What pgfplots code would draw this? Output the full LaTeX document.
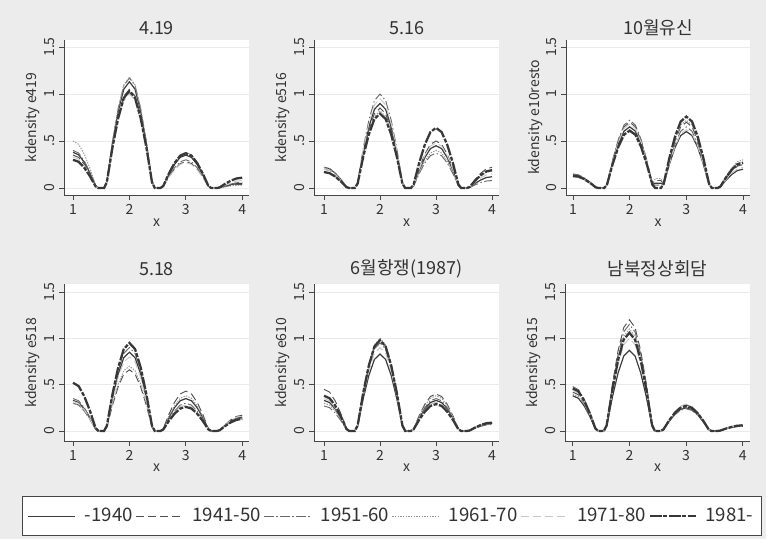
\documentclass[border=0pt]{standalone}
\usepackage{fontspec}
\setmainfont{Noto Sans CJK KR}
\usepackage{pgfplots}
\usepackage{pgfplotstable}
\pgfplotsset{compat=1.18}
\definecolor{bggray}{RGB}{236,236,236}
\definecolor{gridgray}{RGB}{234,234,234}
\definecolor{axisgray}{RGB}{70,70,70}
\definecolor{textgray}{RGB}{50,50,50}
\definecolor{cA}{RGB}{60,60,60}
\definecolor{cB}{RGB}{80,80,80}
\definecolor{cC}{RGB}{105,105,105}
\definecolor{cD}{RGB}{150,150,150}
\definecolor{cE}{RGB}{200,200,200}
\definecolor{cF}{RGB}{55,55,55}

\pgfplotstableread{
x a b c d e f
1.00 0.380 0.350 0.400 0.500 0.330 0.300
1.10 0.353 0.326 0.372 0.465 0.307 0.279
1.20 0.274 0.252 0.288 0.360 0.238 0.216
1.30 0.160 0.147 0.168 0.210 0.139 0.126
1.40 0.023 0.021 0.024 0.030 0.020 0.018
1.45 0 0 0 0 0 0
1.55 0 0 0 0 0 0
1.60 0.068 0.063 0.070 0.071 0.060 0.062
1.70 0.475 0.441 0.491 0.496 0.420 0.433
1.80 0.814 0.756 0.842 0.850 0.720 0.742
1.90 1.051 0.977 1.088 1.097 0.930 0.958
2.00 1.130 1.050 1.170 1.180 1.000 1.030
2.10 1.051 0.977 1.088 1.097 0.930 0.958
2.20 0.814 0.756 0.842 0.850 0.720 0.742
2.30 0.475 0.441 0.491 0.496 0.420 0.433
2.40 0.068 0.063 0.070 0.071 0.060 0.062
2.45 0 0 0 0 0 0
2.55 0 0 0 0 0 0
2.60 0.021 0.017 0.018 0.023 0.016 0.022
2.70 0.147 0.118 0.126 0.160 0.113 0.155
2.80 0.252 0.202 0.216 0.274 0.194 0.266
2.90 0.326 0.260 0.279 0.353 0.251 0.344
3.00 0.350 0.280 0.300 0.380 0.270 0.370
3.10 0.326 0.260 0.279 0.353 0.251 0.344
3.20 0.252 0.202 0.216 0.274 0.194 0.266
3.30 0.147 0.118 0.126 0.160 0.113 0.155
3.40 0.021 0.017 0.018 0.023 0.016 0.022
3.45 0 0 0 0 0 0
3.55 0 0 0 0 0 0
3.60 0.003 0.002 0.004 0.002 0.005 0.007
3.70 0.021 0.017 0.025 0.013 0.034 0.046
3.80 0.036 0.029 0.043 0.022 0.058 0.079
3.90 0.047 0.037 0.056 0.028 0.074 0.102
4.00 0.050 0.040 0.060 0.030 0.080 0.110
}\tA

\pgfplotstableread{
x a b c d e f
1.00 0.220 0.200 0.170 0.220 0.200 0.170
1.10 0.205 0.186 0.158 0.205 0.186 0.158
1.20 0.158 0.144 0.122 0.158 0.144 0.122
1.30 0.092 0.084 0.071 0.092 0.084 0.071
1.40 0.013 0.012 0.010 0.013 0.012 0.010
1.45 0 0 0 0 0 0
1.55 0 0 0 0 0 0
1.60 0.054 0.051 0.060 0.049 0.057 0.047
1.70 0.378 0.357 0.420 0.344 0.399 0.332
1.80 0.648 0.612 0.720 0.590 0.684 0.569
1.90 0.837 0.791 0.930 0.763 0.884 0.735
2.00 0.900 0.850 1.000 0.820 0.950 0.790
2.10 0.837 0.791 0.930 0.763 0.884 0.735
2.20 0.648 0.612 0.720 0.590 0.684 0.569
2.30 0.378 0.357 0.420 0.344 0.399 0.332
2.40 0.054 0.051 0.060 0.049 0.057 0.047
2.45 0 0 0 0 0 0
2.55 0 0 0 0 0 0
2.60 0.027 0.030 0.022 0.024 0.029 0.038
2.70 0.189 0.210 0.155 0.168 0.202 0.269
2.80 0.324 0.360 0.266 0.288 0.346 0.461
2.90 0.419 0.465 0.344 0.372 0.446 0.595
3.00 0.450 0.500 0.370 0.400 0.480 0.640
3.10 0.419 0.465 0.344 0.372 0.446 0.595
3.20 0.324 0.360 0.266 0.288 0.346 0.461
3.30 0.189 0.210 0.155 0.168 0.202 0.269
3.40 0.027 0.030 0.022 0.024 0.029 0.038
3.45 0 0 0 0 0 0
3.55 0 0 0 0 0 0
3.60 0.007 0.013 0.005 0.011 0.009 0.011
3.70 0.050 0.092 0.034 0.076 0.063 0.080
3.80 0.086 0.158 0.058 0.130 0.108 0.137
3.90 0.112 0.205 0.074 0.167 0.140 0.177
4.00 0.120 0.220 0.080 0.180 0.150 0.190
}\tB

\pgfplotstableread{
x a b c d e f
1.00 0.140 0.120 0.150 0.130 0.120 0.130
1.10 0.130 0.112 0.140 0.121 0.112 0.121
1.20 0.101 0.086 0.108 0.094 0.086 0.094
1.30 0.059 0.050 0.063 0.055 0.050 0.055
1.40 0.008 0.007 0.009 0.008 0.007 0.008
1.45 0 0 0 0 0 0
1.55 0 0 0 0 0 0
1.60 0.039 0.042 0.043 0.037 0.041 0.037
1.70 0.273 0.294 0.302 0.260 0.286 0.256
1.80 0.468 0.504 0.518 0.446 0.490 0.439
1.90 0.605 0.651 0.670 0.577 0.632 0.567
2.00 0.650 0.700 0.720 0.620 0.680 0.610
2.10 0.605 0.651 0.670 0.577 0.632 0.567
2.20 0.468 0.504 0.518 0.446 0.490 0.439
2.30 0.273 0.294 0.302 0.260 0.286 0.256
2.40 0.039 0.042 0.043 0.037 0.041 0.037
2.45 0.050 0.080 0.030 0.100 0 0
2.55 0.050 0.080 0.030 0.100 0 0
2.60 0.036 0.042 0.039 0.043 0.037 0.046
2.70 0.252 0.294 0.273 0.302 0.260 0.319
2.80 0.432 0.504 0.468 0.518 0.446 0.547
2.90 0.558 0.651 0.605 0.670 0.577 0.707
3.00 0.600 0.700 0.650 0.720 0.620 0.760
3.10 0.558 0.651 0.605 0.670 0.577 0.707
3.20 0.432 0.504 0.468 0.518 0.446 0.547
3.30 0.252 0.294 0.273 0.302 0.260 0.319
3.40 0.036 0.042 0.039 0.043 0.037 0.046
3.45 0 0 0 0 0 0
3.55 0 0 0 0 0 0
3.60 0.012 0.015 0.017 0.018 0.013 0.016
3.70 0.084 0.105 0.118 0.126 0.092 0.113
3.80 0.144 0.180 0.202 0.216 0.158 0.194
3.90 0.186 0.233 0.260 0.279 0.205 0.251
4.00 0.200 0.250 0.280 0.300 0.220 0.270
}\tC

\pgfplotstableread{
x a b c d e f
1.00 0.330 0.300 0.350 0.300 0.320 0.520
1.10 0.307 0.279 0.326 0.279 0.298 0.484
1.20 0.238 0.216 0.252 0.216 0.230 0.374
1.30 0.139 0.126 0.147 0.126 0.134 0.218
1.40 0.020 0.018 0.021 0.018 0.019 0.031
1.45 0 0 0 0 0 0
1.55 0 0 0 0 0 0
1.60 0.051 0.040 0.054 0.042 0.048 0.057
1.70 0.357 0.277 0.378 0.294 0.336 0.399
1.80 0.612 0.475 0.648 0.504 0.576 0.684
1.90 0.791 0.614 0.837 0.651 0.744 0.884
2.00 0.850 0.660 0.900 0.700 0.800 0.950
2.10 0.791 0.614 0.837 0.651 0.744 0.884
2.20 0.612 0.475 0.648 0.504 0.576 0.684
2.30 0.357 0.277 0.378 0.294 0.336 0.399
2.40 0.051 0.040 0.054 0.042 0.048 0.057
2.45 0 0 0 0 0 0
2.55 0 0 0 0 0 0
2.60 0.021 0.026 0.018 0.023 0.017 0.016
2.70 0.147 0.181 0.126 0.160 0.118 0.109
2.80 0.252 0.310 0.216 0.274 0.202 0.187
2.90 0.326 0.400 0.279 0.353 0.260 0.242
3.00 0.350 0.430 0.300 0.380 0.280 0.260
3.10 0.326 0.400 0.279 0.353 0.260 0.242
3.20 0.252 0.310 0.216 0.274 0.202 0.187
3.30 0.147 0.181 0.126 0.160 0.118 0.109
3.40 0.021 0.026 0.018 0.023 0.017 0.016
3.45 0 0 0 0 0 0
3.55 0 0 0 0 0 0
3.60 0.009 0.010 0.008 0.008 0.010 0.008
3.70 0.063 0.071 0.059 0.055 0.067 0.055
3.80 0.108 0.122 0.101 0.094 0.115 0.094
3.90 0.140 0.158 0.130 0.121 0.149 0.121
4.00 0.150 0.170 0.140 0.130 0.160 0.130
}\tD

\pgfplotstableread{
x a b c d e f
1.00 0.330 0.450 0.270 0.300 0.350 0.380
1.10 0.307 0.419 0.251 0.279 0.326 0.353
1.20 0.238 0.324 0.194 0.216 0.252 0.274
1.30 0.139 0.189 0.113 0.126 0.147 0.160
1.40 0.020 0.027 0.016 0.018 0.021 0.023
1.45 0 0 0 0 0 0
1.55 0 0 0 0 0 0
1.60 0.050 0.059 0.057 0.060 0.054 0.059
1.70 0.349 0.412 0.399 0.420 0.378 0.412
1.80 0.598 0.706 0.684 0.720 0.648 0.706
1.90 0.772 0.911 0.884 0.930 0.837 0.911
2.00 0.830 0.980 0.950 1.000 0.900 0.980
2.10 0.772 0.911 0.884 0.930 0.837 0.911
2.20 0.598 0.706 0.684 0.720 0.648 0.706
2.30 0.349 0.412 0.399 0.420 0.378 0.412
2.40 0.050 0.059 0.057 0.060 0.054 0.059
2.45 0 0 0 0 0 0
2.55 0 0 0 0 0 0
2.60 0.020 0.024 0.021 0.023 0.019 0.017
2.70 0.139 0.168 0.147 0.160 0.130 0.122
2.80 0.238 0.288 0.252 0.274 0.223 0.209
2.90 0.307 0.372 0.326 0.353 0.288 0.270
3.00 0.330 0.400 0.350 0.380 0.310 0.290
3.10 0.307 0.372 0.326 0.353 0.288 0.270
3.20 0.238 0.288 0.252 0.274 0.223 0.209
3.30 0.139 0.168 0.147 0.160 0.130 0.122
3.40 0.020 0.024 0.021 0.023 0.019 0.017
3.45 0 0 0 0 0 0
3.55 0 0 0 0 0 0
3.60 0.005 0.005 0.004 0.005 0.005 0.005
3.70 0.034 0.038 0.029 0.034 0.038 0.038
3.80 0.058 0.065 0.050 0.058 0.065 0.065
3.90 0.074 0.084 0.065 0.074 0.084 0.084
4.00 0.080 0.090 0.070 0.080 0.090 0.090
}\tE

\pgfplotstableread{
x a b c d e f
1.00 0.380 0.420 0.480 0.400 0.440 0.460
1.10 0.353 0.391 0.446 0.372 0.409 0.428
1.20 0.274 0.302 0.346 0.288 0.317 0.331
1.30 0.160 0.176 0.202 0.168 0.185 0.193
1.40 0.023 0.025 0.029 0.024 0.026 0.028
1.45 0 0 0 0 0 0
1.55 0 0 0 0 0 0
1.60 0.052 0.072 0.069 0.066 0.060 0.064
1.70 0.365 0.504 0.483 0.462 0.420 0.445
1.80 0.626 0.864 0.828 0.792 0.720 0.763
1.90 0.809 1.116 1.070 1.023 0.930 0.986
2.00 0.870 1.200 1.150 1.100 1.000 1.060
2.10 0.809 1.116 1.070 1.023 0.930 0.986
2.20 0.626 0.864 0.828 0.792 0.720 0.763
2.30 0.365 0.504 0.483 0.462 0.420 0.445
2.40 0.052 0.072 0.069 0.066 0.060 0.064
2.45 0 0 0 0 0 0
2.55 0 0 0 0 0 0
2.60 0.015 0.017 0.014 0.016 0.017 0.016
2.70 0.105 0.118 0.101 0.109 0.122 0.113
2.80 0.180 0.202 0.173 0.187 0.209 0.194
2.90 0.233 0.260 0.223 0.242 0.270 0.251
3.00 0.250 0.280 0.240 0.260 0.290 0.270
3.10 0.233 0.260 0.223 0.242 0.270 0.251
3.20 0.180 0.202 0.173 0.187 0.209 0.194
3.30 0.105 0.118 0.101 0.109 0.122 0.113
3.40 0.015 0.017 0.014 0.016 0.017 0.016
3.45 0 0 0 0 0 0
3.55 0 0 0 0 0 0
3.60 0.004 0.003 0.004 0.004 0.004 0.004
3.70 0.025 0.021 0.025 0.029 0.025 0.025
3.80 0.043 0.036 0.043 0.050 0.043 0.043
3.90 0.056 0.047 0.056 0.065 0.056 0.056
4.00 0.060 0.050 0.060 0.070 0.060 0.060
}\tF

\pgfplotsset{
  sA/.style={draw=cA, line width=0.9pt, solid},
  sB/.style={draw=cB, line width=0.7pt, dash pattern=on 6pt off 3pt},
  sC/.style={draw=cC, line width=0.7pt, dash pattern=on 7pt off 2pt on 1pt off 2pt},
  sD/.style={draw=cD, line width=0.7pt, dash pattern=on 1pt off 1pt},
  sE/.style={draw=cE, line width=0.7pt, dash pattern=on 6pt off 3pt},
  sF/.style={draw=cF, line width=1.7pt, dash pattern=on 9pt off 1.2pt on 3pt off 1.2pt},
  legend image code/.code={\draw (0pt,0pt) -- (35pt,0pt);},
  panel/.style={
    scale only axis, width=138.75pt, anchor=south west,
    axis x line*=bottom, axis y line*=left,
    axis line style={draw=axisgray, line width=0.6pt, -},
    axis background/.style={fill=white},
    xtick={1,2,3,4}, ytick={0,0.5,1,1.5}, yticklabels={0,.5,1,1.5},
    tick align=outside, major tick length=3.75pt,
    tick style={draw=axisgray, line width=0.6pt},
    ymajorgrids, major grid style={draw=gridgray, line width=0.6pt},
    /pgf/number format/assume math mode=true,
    tick label style={font=\fontsize{10.5}{12}\selectfont, text=textgray},
    yticklabel style={rotate=90, anchor=south},
    xlabel={x},
    label style={font=\fontsize{10.5}{12}\selectfont, text=textgray},
    ylabel style={at={(axis description cs:-0.168,0.5)}, anchor=center, rotate=0},
    title style={font=\fontsize{13.5}{15}\selectfont, text=textgray, anchor=center},
    clip=true,
  },
  rowone/.style={height=116.25pt, ymin=-0.074, ymax=1.574,
    title style={at={(axis description cs:0.5,1.028)}},
    xlabel style={at={(axis description cs:0.5,-0.181)}, anchor=center}},
  rowtwo/.style={height=117.75pt, ymin=-0.108, ymax=1.586,
    title style={at={(axis description cs:0.5,1.045)}},
    xlabel style={at={(axis description cs:0.5,-0.172)}, anchor=center}},
}

\newcommand{\sixplots}[1]{%
  \addplot[sA] table[x=x,y=a]{#1};
  \addplot[sB] table[x=x,y=b]{#1};
  \addplot[sC] table[x=x,y=c]{#1};
  \addplot[sD] table[x=x,y=d]{#1};
  \addplot[sE] table[x=x,y=e]{#1};
  \addplot[sF] table[x=x,y=f]{#1};
}

\begin{document}
\begin{tikzpicture}
\path[use as bounding box, fill=bggray] (0,0) rectangle (574.5pt,404.25pt);

\begin{axis}[panel, rowone, at={(48pt,258pt)}, xmin=0.84, xmax=4.12,
  title={4.19}, ylabel={kdensity e419}]
\sixplots{\tA}
\end{axis}

\begin{axis}[panel, rowone, at={(235.5pt,258pt)}, xmin=0.821, xmax=4.125,
  title={5.16}, ylabel={kdensity e516}]
\sixplots{\tB}
\end{axis}

\begin{axis}[panel, rowone, at={(424.5pt,258pt)}, width=138pt, xmin=0.876, xmax=4.123,
  title={10월유신}, ylabel={kdensity e10resto}]
\sixplots{\tC}
\end{axis}

\begin{axis}[panel, rowtwo, at={(48pt,73.5pt)}, xmin=0.84, xmax=4.12,
  title={5.18}, ylabel={kdensity e518}]
\sixplots{\tD}
\end{axis}

\begin{axis}[panel, rowtwo, at={(235.5pt,73.5pt)}, xmin=0.821, xmax=4.125,
  title={6월항쟁(1987)}, ylabel={kdensity e610}]
\sixplots{\tE}
\end{axis}

\begin{axis}[panel, rowtwo, at={(423.75pt,73.5pt)}, xmin=0.864, xmax=4.128,
  title={남북정상회담}, ylabel={kdensity e615}]
\sixplots{\tF}
\end{axis}

\begin{axis}[hide axis, scale only axis, width=574.5pt, height=404.25pt,
  at={(0pt,0pt)}, anchor=south west, xmin=0, xmax=1, ymin=0, ymax=1,
  legend columns=6,
  legend style={at={(0.0287,0.0056)}, anchor=south west, draw=axisgray,
    line width=0.6pt, fill=white, font=\fontsize{14}{16}\selectfont,
    text=textgray, inner xsep=4pt, inner ysep=6.7pt,
    /tikz/every even column/.append style={column sep=0pt}},
  ]
\addlegendimage{sA}\addlegendentry{\hspace{5pt}-1940}
\addlegendimage{sB}\addlegendentry{\hspace{5pt}1941-50}
\addlegendimage{sC}\addlegendentry{\hspace{5pt}1951-60}
\addlegendimage{sD}\addlegendentry{\hspace{5pt}1961-70}
\addlegendimage{sE}\addlegendentry{\hspace{5pt}1971-80}
\addlegendimage{sF}\addlegendentry{\hspace{4pt}1981-}
\end{axis}
\end{tikzpicture}
\end{document}
